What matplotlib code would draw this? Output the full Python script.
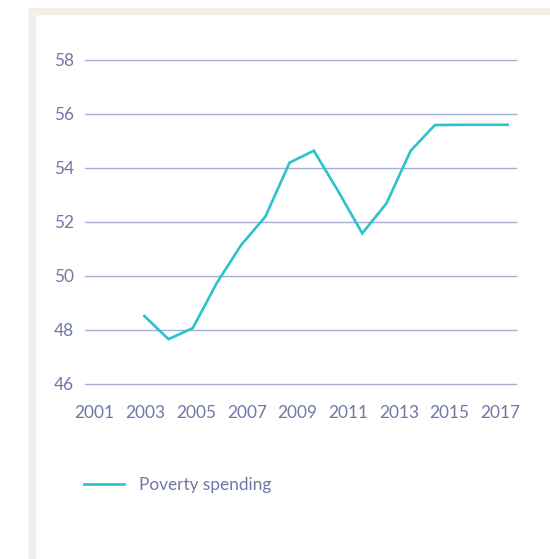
import matplotlib
matplotlib.use("Agg")
import matplotlib.pyplot as plt
from matplotlib.patches import Rectangle

# ── Veri ──────────────────────────────────────────────────────────────────────
years    = list(range(2003, 2019))
spending = [48.52, 47.66, 48.07, 49.75, 51.15, 52.2, 54.2, 54.64,
            53.15, 51.58, 52.69, 54.64, 55.59, 55.6, 55.6, 55.6]
y_ticks  = [46, 48, 50, 52, 54, 56, 58]
x_labels = [2001, 2003, 2005, 2007, 2009, 2011, 2013, 2015, 2017]
series_name = "Poverty spending"

# ── Stil ──────────────────────────────────────────────────────────────────────
TEAL   = "#2bc2cb"
GRID   = "#a7aed3"
TEXT   = "#6f77a6"
BEIGE  = "#f3efe8"
FS     = 12.4
plt.rcParams["font.family"] = ["Lato", "DejaVu Sans"]

W, H = 550, 559
fig = plt.figure(figsize=(W / 100, H / 100), dpi=100)
fig.patch.set_facecolor("white")

# bej çerçeve (sol + üst)
fig.patches.append(Rectangle((29 / W, 0), 6 / W, 1 - 8 / H,
                             transform=fig.transFigure, color=BEIGE, zorder=0))
fig.patches.append(Rectangle((29 / W, 1 - 14 / H), 1 - 29 / W, 6 / H,
                             transform=fig.transFigure, color=BEIGE, zorder=0))

left, right, top, bottom = 85, 516, 60, 384
ax = fig.add_axes([left / W, 1 - bottom / H, (right - left) / W, (bottom - top) / H])
ax.set_facecolor("none")

ax.plot(years, spending, color=TEAL, lw=1.9, label=series_name,
        solid_joinstyle="miter", clip_on=False, zorder=3)

ax.set_ylim(46, 58)
ax.set_yticks(y_ticks)
ax.set_xlim(2000.55, 2018.35)
ax.set_xticks([])
for y in y_ticks:
    ax.axhline(y, color=GRID, lw=1.0, zorder=1, clip_on=False)
for s in ax.spines.values():
    s.set_visible(False)
ax.tick_params(axis="y", length=0, pad=8, labelsize=FS, labelcolor=TEXT)

# yıl etiketleri ayrı eksende
ax2 = ax.twiny()
ax2.set_xlim(2000.62, 2017.63)
ax2.set_xticks(x_labels)
ax2.xaxis.set_ticks_position("bottom")
ax2.xaxis.set_label_position("bottom")
ax2.tick_params(axis="x", length=0, pad=15, labelsize=FS, labelcolor=TEXT)
for s in ax2.spines.values():
    s.set_visible(False)

handles, labels = ax.get_legend_handles_labels()
fig.legend(handles, labels, loc="center left",
           bbox_to_anchor=(84 / W, 1 - 485 / H), frameon=False,
           fontsize=FS, labelcolor=TEXT, handlelength=2.3,
           handletextpad=0.9, borderpad=0, borderaxespad=0)

fig.savefig("out.png", dpi=100, facecolor="white")
